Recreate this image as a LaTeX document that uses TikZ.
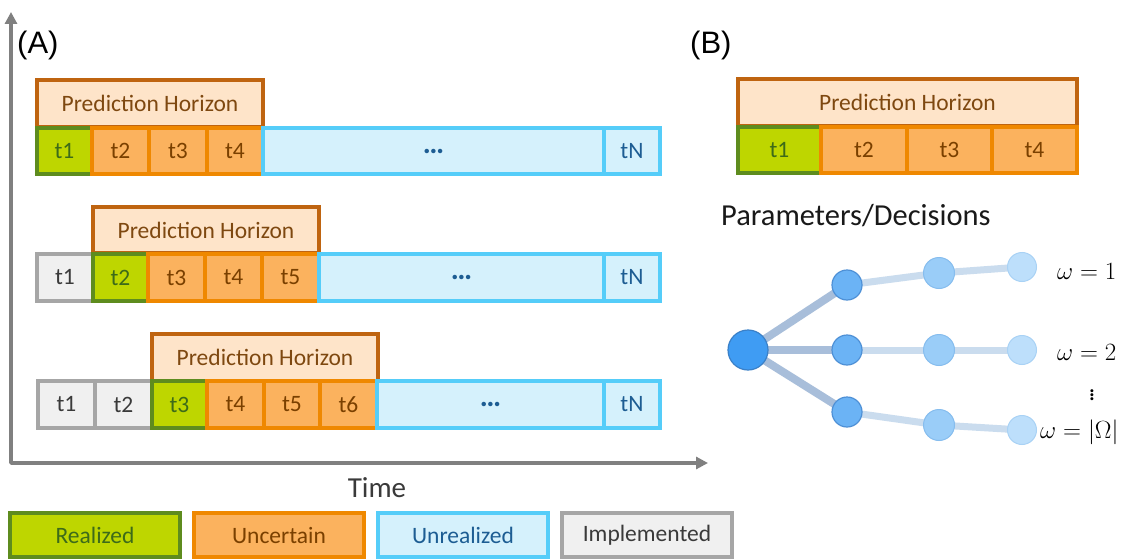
\documentclass[tikz,border=0pt]{standalone}
\usepackage{fontspec}
\setmainfont{Carlito}
\newfontfamily\arialf{Liberation Sans}
\usetikzlibrary{arrows.meta,backgrounds}
\definecolor{phfill}{HTML}{FEE4C9}
\definecolor{phdraw}{HTML}{BF6410}
\definecolor{phtext}{HTML}{7E4810}
\definecolor{realfill}{HTML}{BED600}
\definecolor{realdraw}{HTML}{5E8C1E}
\definecolor{realtext}{HTML}{3D6B19}
\definecolor{uncfill}{HTML}{FBB25E}
\definecolor{uncdraw}{HTML}{EF8800}
\definecolor{unctext}{HTML}{7A4000}
\definecolor{unrfill}{HTML}{D5F1FC}
\definecolor{unrdraw}{HTML}{55CDF9}
\definecolor{unrtext}{HTML}{1D5D93}
\definecolor{implfill}{HTML}{F0F0F0}
\definecolor{impldraw}{HTML}{A6A6A6}
\definecolor{impltext}{HTML}{3A3A3A}
\definecolor{axisgray}{HTML}{808080}
\definecolor{rootfill}{HTML}{3F9CF3}
\definecolor{rootdraw}{HTML}{3A80C8}
\definecolor{lvla}{HTML}{6BB3F5}
\definecolor{lvladraw}{HTML}{4E90D6}
\definecolor{lvlb}{HTML}{9ACDF8}
\definecolor{lvlbdraw}{HTML}{86BDEE}
\definecolor{lvlc}{HTML}{BDDFFB}
\definecolor{lvlcdraw}{HTML}{A9D2F5}
\definecolor{edgea}{HTML}{A8BEDA}
\definecolor{edgeb}{HTML}{CADCEE}
\newcommand\cellbox[7]{\node[#2, minimum width={#4-#3}, minimum height={#6-#5}] (#1) at ({(#3+#4)/2},{(#5+#6)/2}) {#7};}
\tikzset{
  boxbase/.style={rectangle, inner sep=0pt, line width=3.2pt, font=\fontsize{23.5}{28}\selectfont},
  phbox/.style={boxbase, fill=phfill, draw=phdraw, text=phtext},
  realbox/.style={boxbase, fill=realfill, draw=realdraw, text=realtext},
  uncbox/.style={boxbase, fill=uncfill, draw=uncdraw, text=unctext},
  unrbox/.style={boxbase, fill=unrfill, draw=unrdraw, text=unrtext},
  implbox/.style={boxbase, fill=implfill, draw=impldraw, text=impltext},
  dotstext/.style={font=\fontsize{30}{30}\bfseries\selectfont},
  axisline/.style={draw=axisgray, line width=3.5pt, {Triangle[length=12pt,width=12pt]}-{Triangle[length=12pt,width=12pt]}},
  rootnode/.style={circle, minimum size=40pt, inner sep=0pt, fill=rootfill, draw=rootdraw, line width=1.2pt},
  nodea/.style={circle, minimum size=30pt, inner sep=0pt, fill=lvla, draw=lvladraw, line width=1.2pt},
  nodeb/.style={circle, minimum size=31pt, inner sep=0pt, fill=lvlb, draw=lvlbdraw, line width=1pt},
  nodec/.style={circle, minimum size=29pt, inner sep=0pt, fill=lvlc, draw=lvlcdraw, line width=1pt},
  edgeone/.style={draw=edgea, line width=8pt},
  edgetwo/.style={draw=edgeb, line width=7pt},
  panellabel/.style={font=\arialf\fontsize{31}{36}\selectfont, text=black, inner sep=0pt},
  mathlabel/.style={font=\fontsize{25}{30}\selectfont, inner sep=0pt, anchor=west}
}
\begin{document}
\begin{tikzpicture}[x=1pt,y=-1pt]
\useasboundingbox (0,0) rectangle (1134,559);
\begin{scope}[on background layer]
\fill[white] (0,0) rectangle (1134,559);
\end{scope}
% axes
\coordinate (ytip) at (11,12);
\coordinate (origin) at (11,463);
\coordinate (xtip) at (708,463);
\draw[axisline, line join=round] (ytip) -- (origin) -- (xtip);
\node[panellabel, anchor=west] (labA) at (17,45) {(A)};
\node[panellabel, anchor=west] (labB) at (690,45) {(B)};
% row 1
\cellbox{ph1}{phbox}{37}{263}{80}{127}{Prediction Horizon}
\cellbox{a1}{realbox}{37}{92}{128}{174}{t1}
\cellbox{a2}{uncbox}{92}{149}{128}{174}{t2}
\cellbox{a3}{uncbox}{149}{207}{128}{174}{t3}
\cellbox{a4}{uncbox}{207}{263}{128}{174}{t4}
\cellbox{ad}{unrbox,dotstext}{263}{604}{128}{174}{…}
\cellbox{aN}{unrbox}{604}{660}{128}{174}{tN}
% row 2
\cellbox{ph2}{phbox}{93}{319}{207}{253}{Prediction Horizon}
\cellbox{b1}{implbox}{37}{93}{254}{301}{t1}
\cellbox{b2}{realbox}{93}{148}{254}{301}{t2}
\cellbox{b3}{uncbox}{148}{205}{254}{301}{t3}
\cellbox{b4}{uncbox}{205}{262}{254}{301}{t4}
\cellbox{b5}{uncbox}{262}{319}{254}{301}{t5}
\cellbox{bd}{unrbox,dotstext}{319}{604}{254}{301}{…}
\cellbox{bN}{unrbox}{604}{660}{254}{301}{tN}
% row 3
\cellbox{ph3}{phbox}{152}{378}{334}{381}{Prediction Horizon}
\cellbox{c1}{implbox}{38}{95}{381}{428}{t1}
\cellbox{c2}{implbox}{95}{152}{381}{428}{t2}
\cellbox{c3}{realbox}{152}{207}{381}{428}{t3}
\cellbox{c4}{uncbox}{207}{264}{381}{428}{t4}
\cellbox{c5}{uncbox}{264}{320}{381}{428}{t5}
\cellbox{c6}{uncbox}{320}{377}{381}{428}{t6}
\cellbox{cd}{unrbox,dotstext}{377}{604}{381}{428}{…}
\cellbox{cN}{unrbox}{604}{660}{381}{428}{tN}
% time label
\node[font=\fontsize{29}{34}\selectfont, text=impltext, inner sep=0pt] (time) at (377,488) {Time};
% legend
\cellbox{lg1}{realbox}{10}{180}{513}{557}{Realized}
\cellbox{lg2}{uncbox}{194}{364}{513}{557}{Uncertain}
\cellbox{lg3}{unrbox}{378}{548}{513}{557}{Unrealized}
\cellbox{lg4}{implbox}{562}{732}{513}{557}{Implemented}
% panel B
\cellbox{phB}{phbox}{738}{1077}{79}{126}{Prediction Horizon}
\cellbox{d1}{realbox}{738}{821}{127}{173}{t1}
\cellbox{d2}{uncbox}{821}{907}{127}{173}{t2}
\cellbox{d3}{uncbox}{907}{992}{127}{173}{t3}
\cellbox{d4}{uncbox}{992}{1077}{127}{173}{t4}
\node[font=\fontsize{30.5}{36}\selectfont, text=black!90, inner sep=0pt, anchor=west] (params) at (721,216) {Parameters/Decisions};
% tree
\node[rootnode] (root) at (748,350) {};
\node[nodea] (n1a) at (847,285) {};
\node[nodea] (n1b) at (847,350) {};
\node[nodea] (n1c) at (847,412) {};
\node[nodeb] (n2a) at (939,273) {};
\node[nodeb] (n2b) at (939,350) {};
\node[nodeb] (n2c) at (939,425) {};
\node[nodec] (n3a) at (1022,267) {};
\node[nodec] (n3b) at (1022,350) {};
\node[nodec] (n3c) at (1022,430) {};
\begin{scope}[on background layer]
\draw[edgeone] (root.center) -- (n1a.center);
\draw[edgeone] (root.center) -- (n1b.center);
\draw[edgeone] (root.center) -- (n1c.center);
\draw[edgetwo] (n1a.center) -- (n2a.center) -- (n3a.center);
\draw[edgetwo] (n1b.center) -- (n2b.center) -- (n3b.center);
\draw[edgetwo] (n1c.center) -- (n2c.center) -- (n3c.center);
\end{scope}
\node[mathlabel] (w1) at (1057,271) {$\omega = 1$};
\node[mathlabel] (w2) at (1057,352) {$\omega = 2$};
\node[font=\fontsize{25}{30}\selectfont, inner sep=0pt] (vd) at (1092,392) {$\vdots$};
\node[mathlabel] (w3) at (1040,432) {$\omega = |\Omega|$};
\end{tikzpicture}
\end{document}
